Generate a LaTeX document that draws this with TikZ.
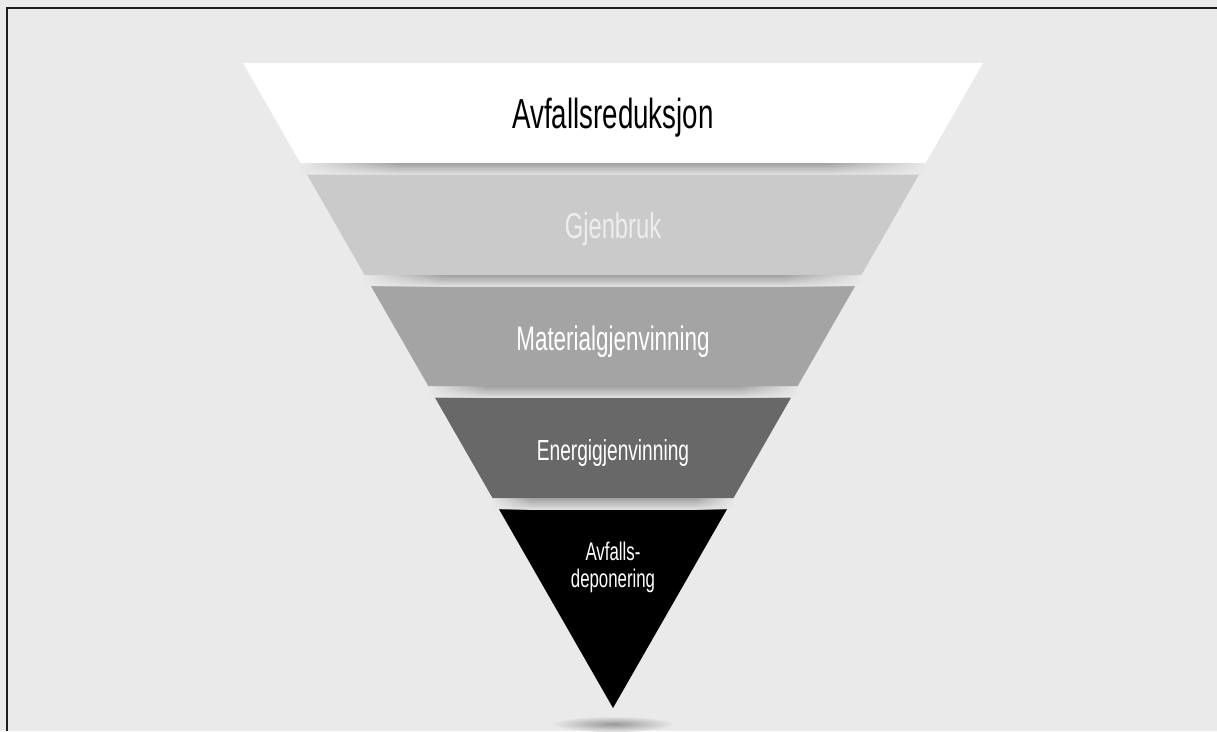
\documentclass[tikz,border=0pt]{standalone}
\usepackage{fontspec}
\usetikzlibrary{fadings}
\newfontfamily\condsans[FakeStretch=0.66]{Liberation Sans}
\definecolor{bg}{HTML}{EAEAEA}
\definecolor{levela}{HTML}{FFFFFF}
\definecolor{levelb}{HTML}{CACACA}
\definecolor{levelc}{HTML}{A4A4A4}
\definecolor{leveld}{HTML}{686868}
\definecolor{levele}{HTML}{000000}
\definecolor{gapdark}{HTML}{A2A2A2}
\definecolor{gaplight}{HTML}{E2E2E2}
\definecolor{frameline}{HTML}{1C1C1C}
% separators fade out towards both ends
\pgfdeclarehorizontalshading{endfadeshade}{100bp}{%
  color(0bp)=(pgftransparent!100); color(25bp)=(pgftransparent!100);
  color(33bp)=(pgftransparent!0); color(67bp)=(pgftransparent!0);
  color(75bp)=(pgftransparent!100); color(100bp)=(pgftransparent!100)}
\pgfdeclarefading{endfade}{\pgfuseshading{endfadeshade}}
\begin{document}
\begin{tikzpicture}[x=1pt,y=-1pt,
  lbl/.style={anchor=base, inner sep=0pt, text=white},
  gapfill/.style={top color=gapdark, bottom color=gaplight, path fading=endfade}]
% page area and background
\useasboundingbox (0,0) rectangle (1217,731);
\fill[bg] (0,0) rectangle (1217,731);
% frame on the left and top edges
\draw[frameline, line width=2pt] (7,731) -- (7,8) -- (1217,8);

% shadow under the tip
\shade[inner color=gray!80, outer color=bg] (613,724) ellipse [x radius=62pt, y radius=8pt];

% the five levels of the inverted pyramid (apex at 613,708)
\fill[levela] (243,63) -- (983,63) -- (925.6,163) -- (300.4,163) -- cycle;
\fill[levelb] (307,174.5) -- (919,174.5) -- (861.4,275) -- (364.6,275) -- cycle;
\fill[levelc] (370.9,286) -- (855.1,286) -- (797.7,386) -- (428.3,386) -- cycle;
\fill[leveld] (434.9,397.5) -- (791.1,397.5) -- (733.5,498) -- (492.5,498) -- cycle;
\fill[levele] (498.9,509) -- (727.1,509) -- (613,708) -- cycle;

% shaded separators between the levels
\foreach \yb/\hw in {163/312.6, 275/248.4, 386/184.7, 498/120.5}{
  \shade[gapfill] (613-\hw,\yb) rectangle (613+\hw,\yb+11.5);
}

% labels
\node[lbl, text=black, font=\condsans\fontsize{42}{48}\selectfont] (ta) at (613,128) {Avfallsreduksjon};
\node[lbl, text=white!93!black, font=\condsans\fontsize{36}{42}\selectfont] (tb) at (613,238) {Gjenbruk};
\node[lbl, font=\condsans\fontsize{34}{40}\selectfont] (tc) at (613,350) {Materialgjenvinning};
\node[lbl, font=\condsans\fontsize{29}{35}\selectfont] (td) at (613,460) {Energigjenvinning};
\node[lbl, font=\condsans\fontsize{25.5}{30}\selectfont] (te1) at (613,560) {Avfalls-};
\node[lbl, font=\condsans\fontsize{25.5}{30}\selectfont] (te2) at (613,587) {deponering};
\end{tikzpicture}
\end{document}
